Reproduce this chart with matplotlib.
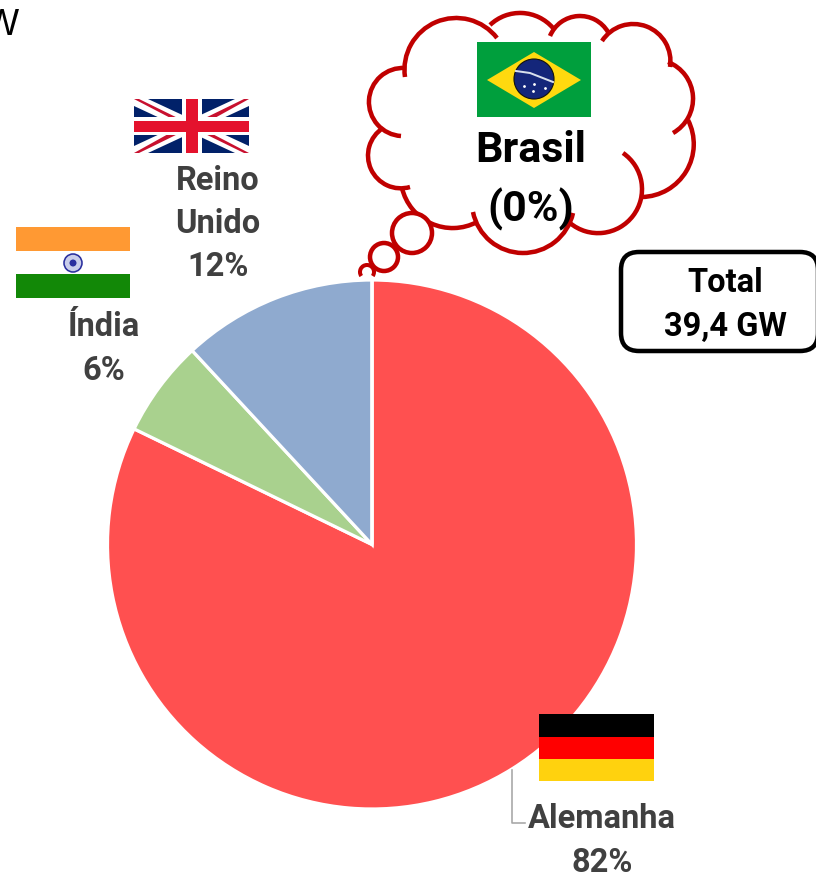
"""
Pie chart of installed capacity by country, with flags and a thought cloud for Brasil.
"""

import math

import matplotlib
matplotlib.use("Agg")
import matplotlib.pyplot as plt
from matplotlib.patches import Arc, Circle, FancyBboxPatch, Polygon, Rectangle

# Data
paises = ["Alemanha", "Índia", "Reino\nUnido", "Brasil"]
shares = [82.2, 5.9, 11.9, 0]
pie_colors = ["#FF5050", "#A9D18E", "#8FAACF", "#FFFFFF"]
total_label = "Total\n39,4 GW"

H = 873
FONT = ["Roboto", "Liberation Sans", "DejaVu Sans"]
PX = 0.72  # one pixel in points at dpi 100
RED = "#C00000"
GREY = "#404040"


def py(y):
    return H - y


def rect(ax, x0, y0, x1, y1, color, z=5):
    ax.add_patch(Rectangle((x0, py(y1)), x1 - x0, y1 - y0, fc=color, ec="none", zorder=z))


def poly(ax, pts, color, z=6):
    ax.add_patch(Polygon([(x, py(y)) for x, y in pts], closed=True, fc=color, ec="none", zorder=z))


def arc3(ax, p0, p1, p2):
    # arc through three points given in image pixels
    (ax0, ay0), (bx, by), (cx, cy) = [(x, py(y)) for x, y in (p0, p1, p2)]
    d = 2 * (ax0 * (by - cy) + bx * (cy - ay0) + cx * (ay0 - by))
    ux = ((ax0**2 + ay0**2) * (by - cy) + (bx**2 + by**2) * (cy - ay0) + (cx**2 + cy**2) * (ay0 - by)) / d
    uy = ((ax0**2 + ay0**2) * (cx - bx) + (bx**2 + by**2) * (ax0 - cx) + (cx**2 + cy**2) * (bx - ax0)) / d
    r = math.hypot(ax0 - ux, ay0 - uy)
    a0 = math.degrees(math.atan2(ay0 - uy, ax0 - ux))
    a1 = math.degrees(math.atan2(by - uy, bx - ux))
    a2 = math.degrees(math.atan2(cy - uy, cx - ux))
    # walk from p0 to p2 passing p1
    if (a1 - a0) % 360 < (a2 - a0) % 360:
        t1, t2 = a0, a2
    else:
        t1, t2 = a2, a0
    ax.add_patch(Arc((ux, uy), 2 * r, 2 * r, theta1=t1, theta2=t2, color=RED, lw=4.5 * PX, zorder=3))


def label(ax, x, y, s, size=23.5, color=GREY, spacing=1.44):
    ax.text(x, py(y), s, ha="center", va="center", fontsize=size, fontweight="bold",
            color=color, family=FONT, linespacing=spacing, zorder=9)


fig = plt.figure(figsize=(8.16, 8.73), dpi=100)
ax = fig.add_axes([0, 0, 1, 1])

ax.pie(
    shares,
    colors=pie_colors,
    startangle=90,
    counterclock=False,
    center=(372, py(544.5)),
    radius=264.5,
    wedgeprops={"edgecolor": "white", "linewidth": 3.2 * PX},
)
ax.set_xlim(0, 816)
ax.set_ylim(0, H)
ax.set_aspect("equal")
ax.axis("off")

# leader line for Alemanha
ax.plot([512, 512, 525], [py(770), py(823), py(823)], color="#A6A6A6", lw=1.6 * PX, zorder=2)

# labels
label(ax, 602, 841, f"{paises[0]}\n{shares[0]:.0f}%")
label(ax, 104, 349, f"{paises[1]}\n{shares[1]:.0f}%")
label(ax, 218, 224, f"{paises[2]}\n{shares[2]:.0f}%")
label(ax, 531, 180.5, f"{paises[3]}\n({shares[3]:.0f}%)", size=31, color="black", spacing=1.48)

# clipped text at the top left corner
ax.text(18.5, py(35), "W", ha="right", va="baseline", fontsize=26, color="black",
        family=["Liberation Sans", "DejaVu Sans"])

# total box
ax.add_patch(FancyBboxPatch((621 + 18, py(351) + 18), 197 - 36, 99 - 36,
                            boxstyle="round,pad=18,rounding_size=18",
                            fc="white", ec="black", lw=4.5 * PX, zorder=4))
label(ax, 725, 305, total_label, color="black", spacing=1.46)

# thought cloud, each lobe is start, middle and end point in image pixels
cloud_arcs = [
    ((405, 77), (455, 18), (497, 38)),
    ((490, 25), (522, 13), (553, 28)),
    ((550, 36), (580, 16), (608, 32)),
    ((602, 41), (633, 24), (670, 67)),
    ((668, 62), (693, 97), (673, 133)),
    ((688, 120), (693, 153), (642, 197)),
    ((623, 153), (642, 190), (570, 223)),
    ((473, 212), (523, 253), (573, 213)),
    ((402, 188), (455, 228), (477, 222)),
    ((410, 187), (368, 155), (383, 128)),
    ((401, 136), (369, 100), (405, 68)),
]
for p0, p1, p2 in cloud_arcs:
    arc3(ax, p0, p1, p2)

for cx, cy, r in [(412, 233, 20), (384, 257, 14)]:
    ax.add_patch(Circle((cx, py(cy)), r, fc="white", ec=RED, lw=4.5 * PX, zorder=3))
ax.add_patch(Arc((367, py(272)), 14, 14, theta1=-35, theta2=215, color=RED, lw=4 * PX, zorder=3))

# Brasil flag
rect(ax, 477, 42, 591, 117, "#009F3D")
poly(ax, [(487, 80), (534, 52), (581, 80), (534, 108)], "#FFD90F")
ax.add_patch(Circle((534, py(79)), 20, fc="#14267A", ec="#101010", lw=0.8, zorder=7))
ax.plot([516, 530, 553], [py(71), py(73), py(82)], color="#D8E0EC", lw=2 * PX, zorder=8)
ax.plot([524, 534, 545, 533], [py(86), py(84), py(88), py(91)], ls="none", marker=".", ms=2, color="white", zorder=8)

# Reino Unido flag
rect(ax, 134, 99, 249, 153, "#012169")
x0, x1, y0, y1 = 134, 249, 99, 153
poly(ax, [(x0, y0), (x0 + 14, y0), (x1, y1 - 7), (x1, y1), (x1 - 14, y1), (x0, y0 + 7)], "white")
poly(ax, [(x1, y0), (x1 - 14, y0), (x0, y1 - 7), (x0, y1), (x0 + 14, y1), (x1, y0 + 7)], "white")
poly(ax, [(x0, y0), (x0 + 5, y0), (190, 124), (182, 124)], "#C8102E")
poly(ax, [(x1, y1), (x1 - 5, y1), (193, 128), (201, 128)], "#C8102E")
poly(ax, [(x1, y0), (x1 - 5, y0), (201, 120), (204, 124)], "#C8102E")
poly(ax, [(x0, y1), (x0 + 5, y1), (182, 132), (179, 128)], "#C8102E")
rect(ax, 182, y0, 202, y1, "white", z=7)
rect(ax, x0, 117, x1, 135, "white", z=7)
rect(ax, 186, y0, 198, y1, "#E4122D", z=8)
rect(ax, x0, 121, x1, 132, "#E4122D", z=8)

# India flag
rect(ax, 16, 227, 130, 251, "#FF9933")
rect(ax, 16, 251, 130, 274, "white")
rect(ax, 16, 274, 130, 298, "#128807")
ax.add_patch(Circle((73, py(263)), 9, fc="#C9CDEA", ec="#2A2F9E", lw=1.6 * PX, zorder=6))
ax.add_patch(Circle((73, py(263)), 3.5, fc="#2A2F9E", ec="none", zorder=7))

# Alemanha flag
rect(ax, 539, 714, 654, 737, "black")
rect(ax, 539, 737, 654, 759, "#FF0000")
rect(ax, 539, 759, 654, 781, "#FFD20E")

fig.savefig("out.png", dpi=100)
plt.close(fig)
